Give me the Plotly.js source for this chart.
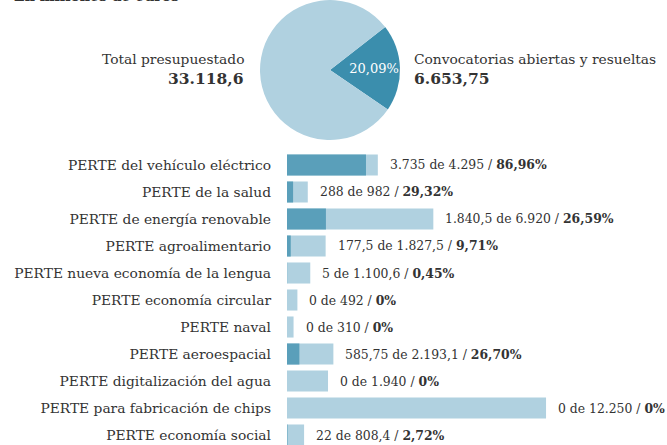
<!DOCTYPE html>
<html>
<head>
<meta charset="utf-8">
<script src="https://cdn.plot.ly/plotly-3.0.1.min.js"></script>
<style>html,body{margin:0;padding:0;background:#fff;}#chart{width:667px;height:445px;}</style>
</head>
<body>
<div id="chart"></div>
<script>
// ---- Data ----
var subtitle = "En millones de euros";
var pieLabels = ["Convocatorias abiertas y resueltas", "Resto del presupuesto"];
var pieValues = [6653.75, 26464.85];
var pieText = ["20,09%", ""];
var totalLabel = "Total presupuestado";
var totalValue = "33.118,6";
var openLabel = "Convocatorias abiertas y resueltas";
var openValue = "6.653,75";

var categories = [
  "PERTE del vehículo eléctrico",
  "PERTE de la salud",
  "PERTE de energía renovable",
  "PERTE agroalimentario",
  "PERTE nueva economía de la lengua",
  "PERTE economía circular",
  "PERTE naval",
  "PERTE aeroespacial",
  "PERTE digitalización del agua",
  "PERTE para fabricación de chips",
  "PERTE economía social"
];
var executed = [3735, 288, 1840.5, 177.5, 5, 0, 0, 585.75, 0, 0, 22];
var totals = [4295, 982, 6920, 1827.5, 1100.6, 492, 310, 2193.1, 1940, 12250, 808.4];
var pctLabels = ["86,96%", "29,32%", "26,59%", "9,71%", "0,45%", "0%", "0%", "26,70%", "0%", "0%", "2,72%"];

// ---- Helpers ----
function fmt(v) {
  var s = String(v).split(".");
  var i = s[0].replace(/\B(?=(\d{3})+(?!\d))/g, ".");
  return s.length > 1 ? i + "," + s[1] : i;
}

var W = 667, H = 445;
var FONT = "DejaVu Serif, Liberation Serif, serif";
var TXT = "#333333";
var LIGHT = "#b0d1e0";
var DARK_BAR = "#5a9fba";
var DARK_PIE = "#3b8ead";

var traces = [
  {
    type: "pie",
    labels: pieLabels,
    values: pieValues,
    text: pieText,
    textinfo: "text",
    textposition: "inside",
    insidetextorientation: "horizontal",
    textfont: {family: FONT, size: 13, color: "#ffffff"},
    marker: {colors: [DARK_PIE, LIGHT], line: {width: 0}},
    sort: false,
    direction: "clockwise",
    rotation: 52,
    showlegend: false,
    hoverinfo: "skip",
    domain: {x: [260 / W, 400 / W], y: [1 - 140 / H, 1]}
  },
  {
    type: "bar",
    orientation: "h",
    y: categories,
    x: totals,
    marker: {color: LIGHT, line: {width: 0}},
    width: 0.78,
    hoverinfo: "skip",
    showlegend: false
  },
  {
    type: "bar",
    orientation: "h",
    y: categories,
    x: executed,
    marker: {color: DARK_BAR, line: {width: 0}},
    width: 0.78,
    hoverinfo: "skip",
    showlegend: false
  }
];

var annotations = [];
for (var k = 0; k < categories.length; k++) {
  annotations.push({
    x: totals[k], y: categories[k], xref: "x", yref: "y",
    xanchor: "left", yanchor: "middle", xshift: 10,
    showarrow: false,
    text: fmt(executed[k]) + " de " + fmt(totals[k]) + " / <b>" + pctLabels[k] + "</b>",
    font: {family: FONT, size: 12.4, color: TXT}
  });
}
annotations.push(
  {xref: "paper", yref: "paper", x: 12 / W, y: 1, xanchor: "left", yanchor: "bottom", yshift: -6,
   showarrow: false, text: "<b>" + subtitle + "</b>", font: {family: FONT, size: 14, color: TXT}},
  {xref: "paper", yref: "paper", x: 246 / W, y: 1 - 59 / H, xanchor: "right", yanchor: "middle",
   showarrow: false, text: totalLabel, font: {family: FONT, size: 13.8, color: TXT}},
  {xref: "paper", yref: "paper", x: 246 / W, y: 1 - 78 / H, xanchor: "right", yanchor: "middle",
   showarrow: false, text: "<b>" + totalValue + "</b>", font: {family: FONT, size: 15.5, color: TXT}},
  {xref: "paper", yref: "paper", x: 412 / W, y: 1 - 59 / H, xanchor: "left", yanchor: "middle",
   showarrow: false, text: openLabel, font: {family: FONT, size: 13.8, color: TXT}},
  {xref: "paper", yref: "paper", x: 412 / W, y: 1 - 78 / H, xanchor: "left", yanchor: "middle",
   showarrow: false, text: "<b>" + openValue + "</b>", font: {family: FONT, size: 15.5, color: TXT}}
);

var layout = {
  width: W, height: H,
  margin: {l: 0, r: 0, t: 0, b: 0},
  paper_bgcolor: "#ffffff",
  plot_bgcolor: "#ffffff",
  barmode: "overlay",
  bargap: 0.2,
  showlegend: false,
  xaxis: {
    domain: [287 / W, 1],
    range: [0, 17970],
    showgrid: false, zeroline: false, showline: false, showticklabels: false, ticks: ""
  },
  yaxis: {
    type: "category",
    categoryorder: "array",
    categoryarray: categories,
    domain: [0, 1 - 151.5 / H],
    range: [10.37, -0.5],
    autorange: false,
    showgrid: false, zeroline: false, showline: false,
    ticks: "",
    ticklabelstandoff: 15,
    tickfont: {family: FONT, size: 13.8, color: TXT}
  },
  annotations: annotations
};

Plotly.newPlot("chart", traces, layout, {displayModeBar: false, staticPlot: true});
</script>
</body>
</html>
